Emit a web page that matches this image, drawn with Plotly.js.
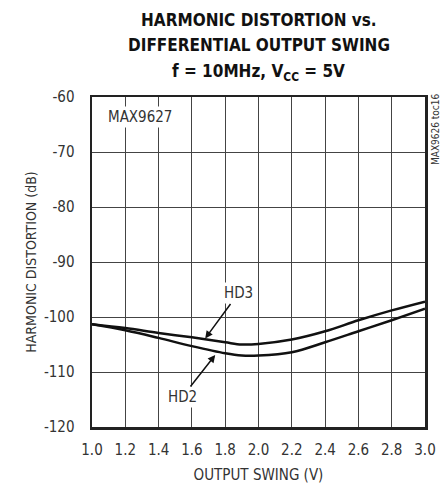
<!DOCTYPE html>
<html>
<head>
<meta charset="utf-8">
<script src="https://cdn.plot.ly/plotly-3.0.1.min.js"></script>
<style>html,body{margin:0;padding:0;background:#fff;}#chart{width:443px;height:486px;}</style>
</head>
<body>
<div id="chart"></div>
<script>
const swing = [1.0, 1.2, 1.4, 1.6, 1.8, 1.9, 2.0, 2.2, 2.4, 2.6, 2.8, 3.0];
const hd3 = [-101.3, -102.0, -102.9, -103.7, -104.6, -105.0, -104.9, -104.1, -102.6, -100.6, -98.8, -97.2];
const hd2 = [-101.3, -102.4, -103.8, -105.3, -106.6, -107.0, -107.0, -106.4, -104.6, -102.6, -100.6, -98.5];
const xTickVals = [1.0, 1.2, 1.4, 1.6, 1.8, 2.0, 2.2, 2.4, 2.6, 2.8, 3.0];
const xTickText = ["1.0", "1.2", "1.4", "1.6", "1.8", "2.0", "2.2", "2.4", "2.6", "2.8", "3.0"];
const yTickVals = [-60, -70, -80, -90, -100, -110, -120];
const yTickText = ["-60", "-70", "-80", "-90", "-100", "-110", "-120"];
const titleLines = ["HARMONIC DISTORTION vs.", "DIFFERENTIAL OUTPUT SWING", "f = 10MHz, V<sub>CC</sub> = 5V"];

const FONT = '"Liberation Sans Narrow", "DejaVu Sans Condensed", "Roboto", sans-serif';
const TFONT = '"DejaVu Sans Condensed", "Liberation Sans Narrow", sans-serif';

const traces = [
  {x: swing, y: hd3, mode: 'lines', line: {color: '#111', width: 2.5, shape: 'spline'}, name: 'HD3', hoverinfo: 'skip'},
  {x: swing, y: hd2, mode: 'lines', line: {color: '#111', width: 2.5, shape: 'spline'}, name: 'HD2', hoverinfo: 'skip'}
];

const axisCommon = {
  showgrid: true, gridcolor: '#444', gridwidth: 1,
  showline: true, linecolor: '#222', linewidth: 2.5, mirror: true,
  zeroline: false, ticks: 'outside', tickcolor: 'rgba(0,0,0,0)',
  tickfont: {family: FONT, size: 15, color: '#333'}
};

const titleY = [1.233, 1.158, 1.075];
const annotations = titleLines.map((t, i) => ({
  x: 0.5, y: titleY[i], xref: 'paper', yref: 'paper', xanchor: 'center', yanchor: 'middle',
  text: '<b>' + t + '</b>', showarrow: false,
  font: {family: TFONT, size: 17, color: '#111'}
}));

annotations.push(
  {x: 1.68, y: -103.9, xref: 'x', yref: 'y', text: 'HD3', showarrow: true, arrowhead: 2, arrowsize: 1, arrowwidth: 1.5, arrowcolor: '#111',
   ax: 33, ay: -45, bgcolor: '#fff', font: {family: FONT, size: 15, color: '#333'}},
  {x: 1.74, y: -106.9, xref: 'x', yref: 'y', text: 'HD2', showarrow: true, arrowhead: 2, arrowsize: 1, arrowwidth: 1.5, arrowcolor: '#111',
   ax: -33, ay: 42, bgcolor: '#fff', font: {family: FONT, size: 15, color: '#333'}},
  {x: 0.144, y: 0.939, xref: 'paper', yref: 'paper', xanchor: 'center', yanchor: 'middle', text: 'MAX9627', showarrow: false, bgcolor: '#fff',
   font: {family: FONT, size: 15, color: '#333'}},
  {x: 1.03, y: 0.903, xref: 'paper', yref: 'paper', xanchor: 'center', yanchor: 'middle', text: 'MAX9626 toc16', showarrow: false, textangle: -90,
   font: {family: FONT, size: 10, color: '#333'}}
);

const layout = {
  width: 443, height: 486,
  margin: {l: 92, r: 18, t: 97, b: 59},
  paper_bgcolor: '#fff', plot_bgcolor: '#fff',
  showlegend: false,
  xaxis: Object.assign({}, axisCommon, {
    range: [1.0, 3.0], tickvals: xTickVals, ticktext: xTickText, ticklen: 7,
    title: {text: 'OUTPUT SWING (V)', font: {family: FONT, size: 15, color: '#333'}, standoff: 12}
  }),
  yaxis: Object.assign({}, axisCommon, {
    range: [-120, -60], tickvals: yTickVals, ticktext: yTickText, ticklen: 12,
    title: {text: 'HARMONIC DISTORTION (dB)', font: {family: FONT, size: 14, color: '#333'}, standoff: 4}
  }),
  annotations: annotations
};

Plotly.newPlot('chart', traces, layout, {staticPlot: true, displayModeBar: false});
</script>
</body>
</html>
